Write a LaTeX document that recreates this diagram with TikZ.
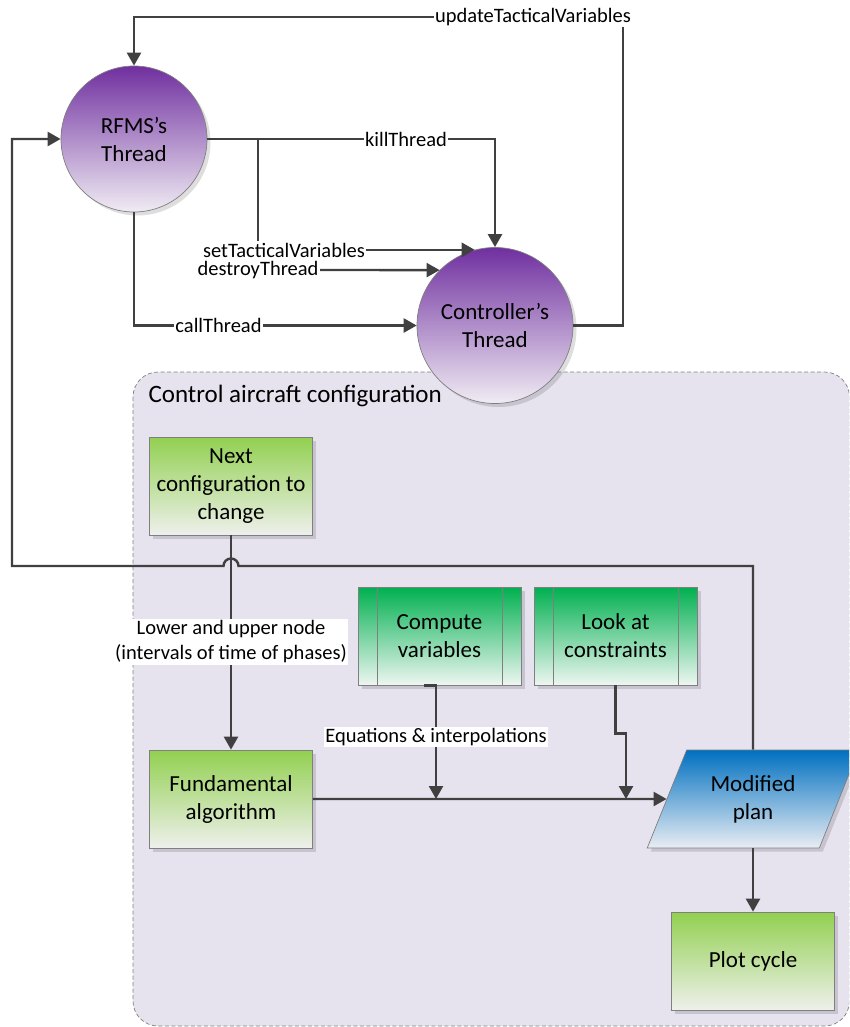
\documentclass[tikz,border=0pt]{standalone}
\usepackage{fontspec}
\setmainfont{Carlito}
\usetikzlibrary{arrows.meta,shapes.geometric,shadows}

\definecolor{linec}{HTML}{404040}
\definecolor{edgec}{HTML}{7F7F7F}
\definecolor{purpleT}{HTML}{7030A0}
\definecolor{purpleB}{HTML}{F0ECF3}
\definecolor{greenT}{HTML}{92D050}
\definecolor{greenB}{HTML}{EEF0EC}
\definecolor{dgreenT}{HTML}{00B050}
\definecolor{dgreenB}{HTML}{EEF6F1}
\definecolor{blueT}{HTML}{0070C0}
\definecolor{blueB}{HTML}{E9EDF3}
\definecolor{contfill}{HTML}{E6E2EE}

\tikzset{
  conn/.style={draw=linec, line width=2.4pt, -{Triangle[length=13pt,width=14pt]}},
  shadowed/.style={drop shadow={shadow xshift=3.5pt, shadow yshift=-3.5pt, fill=black, opacity=0.13}},
  thread/.style={circle, draw=edgec, line width=0.7pt, top color=purpleT, bottom color=purpleB,
    align=center, font=\fontsize{23}{28}\selectfont, shadowed},
  procbox/.style={rectangle, draw=edgec, line width=0.7pt, minimum width=163pt, minimum height=98pt,
    top color=greenT, bottom color=greenB, align=center, font=\fontsize{23}{28}\selectfont, shadowed},
  predef/.style={procbox, top color=dgreenT, bottom color=dgreenB},
  iobox/.style={trapezium, trapezium left angle=63.4, trapezium right angle=116.6,
    trapezium stretches=true, minimum width=212pt, minimum height=98pt,
    draw=edgec, line width=0.7pt, top color=blueT, bottom color=blueB,
    align=center, font=\fontsize{23}{28}\selectfont, shadowed},
  lbl/.style={fill=white, inner sep=1.5pt, align=center, font=\fontsize{20.5}{25}\selectfont},
}

\begin{document}
\begin{tikzpicture}[x=1pt,y=-1pt]
\clip (0,0) rectangle (849,1027);

% container for the configuration loop
\draw[draw=gray, fill=contfill, line width=0.7pt, dash pattern=on 4pt off 2.5pt, rounded corners=25pt]
  (133,372) rectangle (849.5,1026);
\node[anchor=west, font=\fontsize{25}{30}\selectfont] (title) at (145,396) {Control aircraft configuration};

% threads
\node[thread, minimum size=146pt] (rfms) at (134,139) {RFMS’s\\Thread};
\node[thread, minimum size=156pt] (ctrl) at (495,325.5) {Controller’s\\Thread};

% process boxes
\node[procbox] (next) at (231,486) {Next\\configuration to\\change};
\node[procbox] (fund) at (231,799) {Fundamental\\algorithm};
\node[predef] (cv) at (439.5,636) {Compute\\variables};
\node[predef] (lc) at (615.5,636) {Look at\\constraints};
\node[iobox] (plan) at (753,799) {Modified\\plan};
\node[procbox] (plot) at (753,961) {Plot cycle};

% inner bars of the predefined-process boxes
\foreach \b in {cv,lc}{
  \draw[draw=edgec, line width=0.7pt] ([xshift=19.5pt]\b.north west) -- ([xshift=19.5pt]\b.south west);
  \draw[draw=edgec, line width=0.7pt] ([xshift=-19.5pt]\b.north east) -- ([xshift=-19.5pt]\b.south east);
}

% junction points
\coordinate (utv) at (623,17);
\coordinate (split) at (258,139);
\coordinate (j1) at (436,799);
\coordinate (j2) at (626,799);

% thread messages
\draw[conn] (ctrl.east) -| (utv) -| (rfms.north);
\draw[conn] (rfms.east) -| (ctrl.north);
\draw[conn] (split) |- (ctrl.105);
\node[lbl] (ldt) at (258,270) {destroyThread};
\draw[conn] (ldt.east) -- (ctrl.135);
\draw[conn] (rfms.south) |- (ctrl.west);

\node[lbl] (lutv) at (533,17) {updateTacticalVariables};
\node[lbl] (lkill) at (406,139) {killThread};
\node[lbl] (lstv) at (284,250) {setTacticalVariables};
\node[lbl] (lcall) at (218.5,325.5) {callThread};

% loop back to the RFMS thread, hopping over the vertical connector
\draw[conn] (plan.center |- plan.north) -- (753,566) -- (238.5,566)
  arc[start angle=0, end angle=-180, radius=7.5] -- (12,566) |- (rfms.west);

% configuration flow
\draw[conn] (next.south) -- (fund.north);
\node[lbl] (llow) at (231,642) {Lower and upper node\\(intervals of time of phases)};
\draw[conn] (fund.east) -- (plan);
\draw[conn] ([xshift=-15.5pt]cv.south) -| (j1);
\node[lbl] (leq) at (436,737) {Equations \& interpolations};
\draw[conn] (lc.south) -- ++(0,48) -| (j2);
\draw[conn] (plan.center |- plan.south) -- (plot.north);
\end{tikzpicture}
\end{document}
